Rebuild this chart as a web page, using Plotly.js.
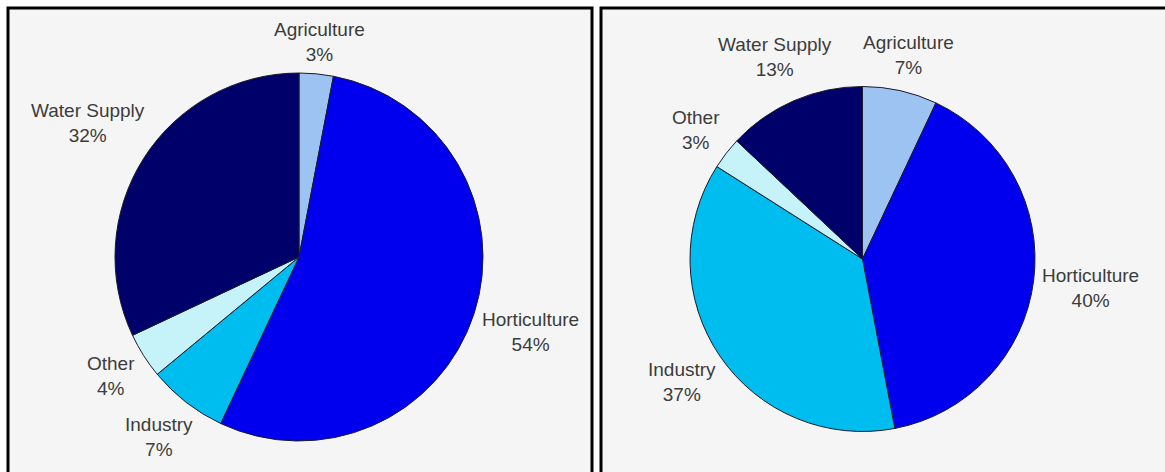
<!DOCTYPE html>
<html>
<head>
<meta charset="utf-8">
<script src="https://cdn.plot.ly/plotly-3.0.1.min.js"></script>
<style>html,body{margin:0;padding:0;background:#fff;}#chart{width:1165px;height:472px;}</style>
</head>
<body>
<div id="chart"></div>
<script>
// Data
var categories = ["Agriculture", "Horticulture", "Industry", "Other", "Water Supply"];
var leftValues = [3, 54, 7, 4, 32];
var rightValues = [7, 40, 37, 3, 13];
var sliceColors = ["#9cc3f2", "#0000ee", "#00bdf0", "#c6f3fa", "#00006a"];

var W = 1165, H = 472;
var FONT_FAMILY = "Liberation Sans, Arial, sans-serif";
var FONT_SIZE = 19;
var HALF_H = 20;
function px(x) { return x / W; }
function py(y) { return 1 - y / H; }

// pie geometry in pixels (layout)
var pies = [
  {values: leftValues, cx: 299, cy: 257, r: 184, gap: 1.04},
  {values: rightValues, cx: 862.5, cy: 259, r: 172.5, gap: 1.04}
];

var canvas = document.createElement("canvas");
var ctx = canvas.getContext("2d");
ctx.font = FONT_SIZE + "px 'Liberation Sans'";

var traces = [];
var annotations = [];
pies.forEach(function (p) {
  traces.push({
    type: "pie",
    labels: categories,
    values: p.values,
    sort: false,
    direction: "clockwise",
    rotation: 0,
    textinfo: "none",
    marker: {colors: sliceColors, line: {color: "#1b1b2a", width: 1}},
    hoverinfo: "label+percent",
    showlegend: false,
    domain: {x: [px(p.cx - p.r), px(p.cx + p.r)], y: [py(p.cy + p.r), py(p.cy - p.r)]}
  });
  var total = p.values.reduce(function (a, b) { return a + b; }, 0);
  var cum = 0;
  p.values.forEach(function (v, i) {
    var mid = (cum + v / 2) / total * 2 * Math.PI;
    cum += v;
    var pct = Math.round(v / total * 100) + "%";
    var w = Math.max(ctx.measureText(categories[i]).width, ctx.measureText(pct).width);
    var s = Math.abs(Math.sin(mid)) * w / 2 + Math.abs(Math.cos(mid)) * HALF_H;
    var d = p.gap * p.r + s;
    var x = p.cx + d * Math.sin(mid);
    var y = p.cy - d * Math.cos(mid);
    annotations.push({
      xref: "paper", yref: "paper", x: px(x), y: py(y),
      xanchor: "center", yanchor: "middle", showarrow: false, align: "center",
      text: categories[i] + "<br>" + pct,
      font: {family: FONT_FAMILY, size: FONT_SIZE, color: "#3c3c3c"}
    });
  });
});

var layout = {
  width: W, height: H,
  margin: {l: 0, r: 0, t: 0, b: 0},
  paper_bgcolor: "#ffffff",
  showlegend: false,
  annotations: annotations,
  shapes: [
    {type: "rect", xref: "paper", yref: "paper", layer: "below",
     x0: px(8), x1: px(592), y0: py(H + 20), y1: py(8),
     fillcolor: "#f5f5f5", line: {color: "#000", width: 3}},
    {type: "rect", xref: "paper", yref: "paper", layer: "below",
     x0: px(601), x1: px(W + 20), y0: py(H + 20), y1: py(8),
     fillcolor: "#f5f5f5", line: {color: "#000", width: 3}}
  ]
};

Plotly.newPlot("chart", traces, layout, {displayModeBar: false, staticPlot: true});
</script>
</body>
</html>
